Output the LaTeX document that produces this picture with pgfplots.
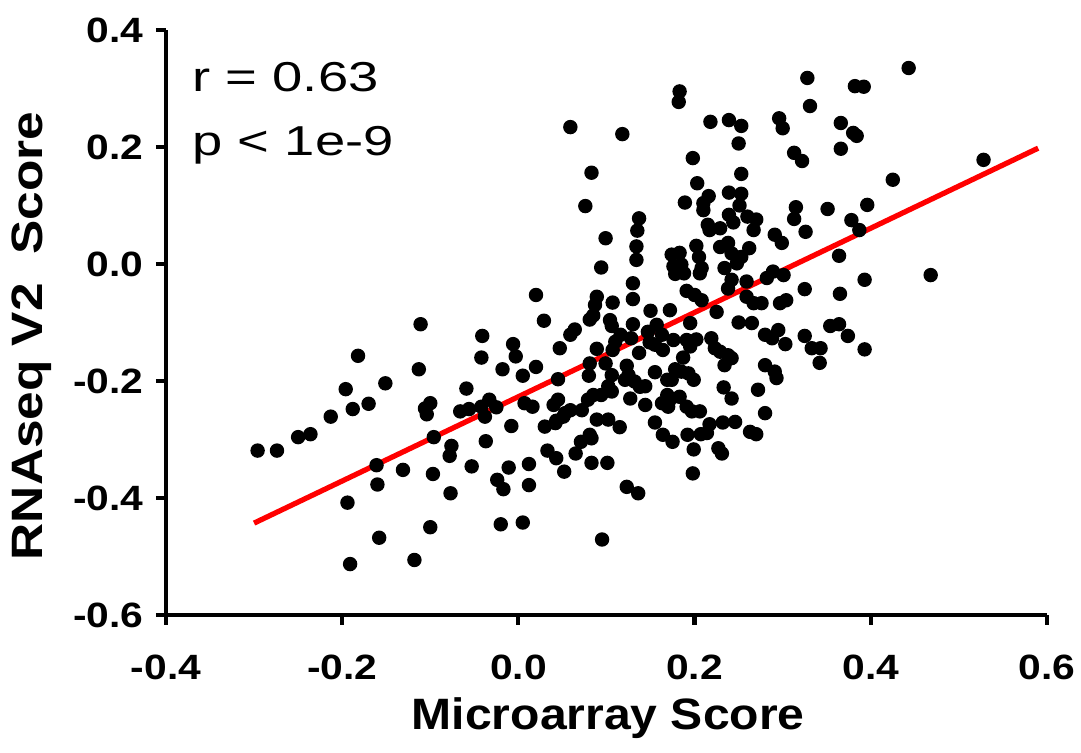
\documentclass[border=0pt]{standalone}
\usepackage{fontspec}
\setmainfont{Liberation Sans}[FakeStretch=1.16]
\newfontfamily\ylabfont{Liberation Sans}[FakeStretch=1.17]
\newfontfamily\xlabfont{Liberation Sans}[FakeStretch=1.095]
\newfontfamily\notefont{Liberation Sans}[FakeStretch=1.3]
\usepackage{pgfplots}
\usepackage{pgfplotstable}
\pgfplotsset{compat=1.18}

% scores
\pgfplotstableread{
x y
-0.111 -0.103
-0.182 -0.157
-0.113 -0.180
-0.151 -0.204
-0.196 -0.214
-0.188 -0.248
-0.170 -0.239
-0.213 -0.261
-0.250 -0.296
-0.236 -0.291
-0.296 -0.319
-0.274 -0.319
-0.161 -0.344
-0.131 -0.352
-0.160 -0.377
-0.194 -0.408
-0.158 -0.468
-0.191 -0.513
-0.118 -0.506
0.020 -0.053
0.029 -0.097
-0.041 -0.123
-0.006 -0.137
-0.042 -0.160
-0.003 -0.158
-0.018 -0.180
0.020 -0.176
0.005 -0.191
0.045 -0.197
-0.059 -0.213
-0.100 -0.238
-0.106 -0.247
-0.104 -0.257
-0.066 -0.252
-0.056 -0.248
-0.042 -0.244
-0.033 -0.232
-0.025 -0.245
-0.038 -0.261
0.007 -0.238
0.016 -0.244
0.040 -0.241
0.045 -0.232
-0.008 -0.277
0.030 -0.278
0.042 -0.272
-0.096 -0.296
-0.076 -0.311
-0.078 -0.328
-0.037 -0.303
0.033 -0.319
0.043 -0.332
-0.053 -0.346
-0.097 -0.359
-0.011 -0.348
0.012 -0.342
-0.024 -0.369
-0.017 -0.385
0.012 -0.378
-0.077 -0.392
-0.100 -0.450
-0.020 -0.445
0.005 -0.442
0.183 0.295
0.182 0.277
0.059 0.234
0.118 0.222
0.083 0.156
0.076 0.099
0.137 0.078
0.135 0.057
0.134 0.030
0.099 0.044
0.134 0.007
0.094 -0.006
0.174 0.016
0.183 0.019
0.176 -0.004
0.185 -0.001
0.178 -0.017
0.188 -0.016
0.130 -0.033
0.089 -0.056
0.087 -0.070
0.085 -0.088
0.081 -0.095
0.107 -0.066
0.130 -0.060
0.150 -0.080
0.172 -0.079
0.104 -0.096
0.106 -0.106
0.130 -0.103
0.157 -0.104
0.147 -0.116
0.163 -0.121
0.064 -0.112
0.059 -0.121
0.116 -0.121
0.128 -0.127
0.110 -0.133
0.107 -0.147
0.149 -0.134
0.155 -0.138
0.164 -0.147
0.047 -0.144
0.089 -0.145
0.137 -0.152
0.081 -0.170
0.080 -0.191
0.099 -0.170
0.123 -0.174
0.125 -0.190
0.121 -0.198
0.106 -0.190
0.155 -0.185
0.178 -0.180
0.132 -0.201
0.144 -0.209
0.138 -0.210
0.169 -0.198
0.102 -0.209
0.106 -0.218
0.094 -0.224
0.085 -0.224
0.079 -0.232
0.127 -0.230
0.169 -0.224
0.144 -0.241
0.163 -0.238
0.170 -0.244
0.072 -0.250
0.059 -0.250
0.053 -0.255
0.089 -0.266
0.102 -0.266
0.043 -0.268
0.051 -0.261
0.115 -0.279
0.081 -0.292
0.083 -0.298
0.071 -0.304
0.065 -0.324
0.052 -0.355
0.083 -0.340
0.101 -0.340
0.123 -0.381
0.136 -0.392
0.095 -0.471
0.155 -0.271
0.164 -0.292
0.175 -0.304
0.218 0.243
0.239 0.246
0.253 0.236
0.296 0.249
0.300 0.232
0.250 0.206
0.198 0.181
0.253 0.154
0.203 0.138
0.216 0.116
0.210 0.104
0.210 0.092
0.189 0.105
0.239 0.122
0.253 0.120
0.251 0.100
0.239 0.084
0.244 0.071
0.260 0.081
0.270 0.076
0.267 0.058
0.215 0.067
0.217 0.058
0.229 0.061
0.291 0.050
0.299 0.036
0.202 0.031
0.205 0.012
0.229 0.029
0.238 0.036
0.242 0.018
0.262 0.027
0.253 0.012
0.208 -0.007
0.206 -0.016
0.234 -0.007
0.248 0.001
0.242 -0.027
0.238 -0.042
0.259 -0.030
0.282 -0.024
0.289 -0.013
0.301 -0.019
0.191 -0.046
0.200 -0.053
0.208 -0.062
0.259 -0.056
0.267 -0.067
0.276 -0.067
0.297 -0.067
0.304 -0.062
0.225 -0.082
0.195 -0.101
0.250 -0.100
0.265 -0.101
0.280 -0.121
0.288 -0.127
0.295 -0.113
0.303 -0.137
0.176 -0.130
0.191 -0.130
0.202 -0.129
0.195 -0.141
0.219 -0.127
0.223 -0.144
0.229 -0.150
0.238 -0.156
0.242 -0.161
0.234 -0.173
0.187 -0.160
0.185 -0.184
0.193 -0.187
0.199 -0.198
0.280 -0.173
0.291 -0.184
0.293 -0.195
0.174 -0.198
0.233 -0.211
0.242 -0.230
0.272 -0.215
0.183 -0.227
0.172 -0.232
0.191 -0.244
0.197 -0.252
0.206 -0.252
0.280 -0.255
0.217 -0.274
0.232 -0.271
0.246 -0.270
0.192 -0.292
0.207 -0.291
0.214 -0.289
0.199 -0.317
0.227 -0.315
0.231 -0.324
0.263 -0.287
0.270 -0.291
0.198 -0.358
0.328 0.318
0.443 0.335
0.382 0.304
0.392 0.303
0.331 0.270
0.366 0.241
0.384 0.219
0.380 0.224
0.366 0.197
0.313 0.190
0.322 0.176
0.528 0.178
0.425 0.144
0.315 0.097
0.313 0.077
0.351 0.094
0.396 0.101
0.326 0.055
0.378 0.075
0.387 0.058
0.364 0.014
0.468 -0.019
0.393 -0.027
0.325 -0.043
0.365 -0.051
0.354 -0.106
0.364 -0.103
0.325 -0.123
0.374 -0.123
0.333 -0.144
0.343 -0.144
0.393 -0.146
0.342 -0.169
}\scores

\begin{document}
\begin{tikzpicture}
\begin{axis}[
    scale only axis,
    width=8.81cm,
    height=5.85cm,
    xmin=-0.4, xmax=0.6,
    ymin=-0.6, ymax=0.4,
    axis x line*=bottom,
    axis y line*=left,
    axis line style={-, line width=1.2pt},
    tick style={line width=1.2pt, black},
    tick align=outside,
    major tick length=0.1cm,
    xtick={-0.4,-0.2,0,0.2,0.4,0.6},
    xticklabels={-0.4,-0.2,0.0,0.2,0.4,0.6},
    ytick={-0.6,-0.4,-0.2,0,0.2,0.4},
    yticklabels={-0.6,-0.4,-0.2,0.0,0.2,0.4},
    tick label style={font=\fontsize{10}{12}\selectfont\bfseries},
    xticklabel style={yshift=-0.18cm},
    xlabel={Microarray Score},
    ylabel={RNAseq V2\ \ Score},
    xlabel style={font=\fontsize{12.5}{14}\selectfont\xlabfont\bfseries,
        at={(rel axis cs:0.502,-0.1966)}, anchor=base},
    ylabel style={font=\fontsize{12.5}{14}\selectfont\ylabfont\bfseries,
        at={(rel axis cs:-0.140,0.477)}, anchor=base},
]
\addplot[red, line width=1.5pt, no marks] coordinates {(-0.30,-0.443) (0.59,0.198)};
\addplot[only marks, mark=*, mark size=1.85pt, black] table {\scores};
\node[anchor=base west, inner sep=0pt, font=\fontsize{11.9}{14}\selectfont\notefont] at (rel axis cs:0.0295,0.894) {r = 0.63};
\node[anchor=base west, inner sep=0pt, font=\fontsize{11.9}{14}\selectfont\notefont] at (rel axis cs:0.0295,0.786) {p < 1e-9};
\coordinate (bl) at (rel axis cs:-0.1884,-0.2359);
\coordinate (tr) at (rel axis cs:1.0386,1.0513);
\end{axis}
\pgfresetboundingbox
\path[use as bounding box] (bl) rectangle (tr);
\end{tikzpicture}
\end{document}
